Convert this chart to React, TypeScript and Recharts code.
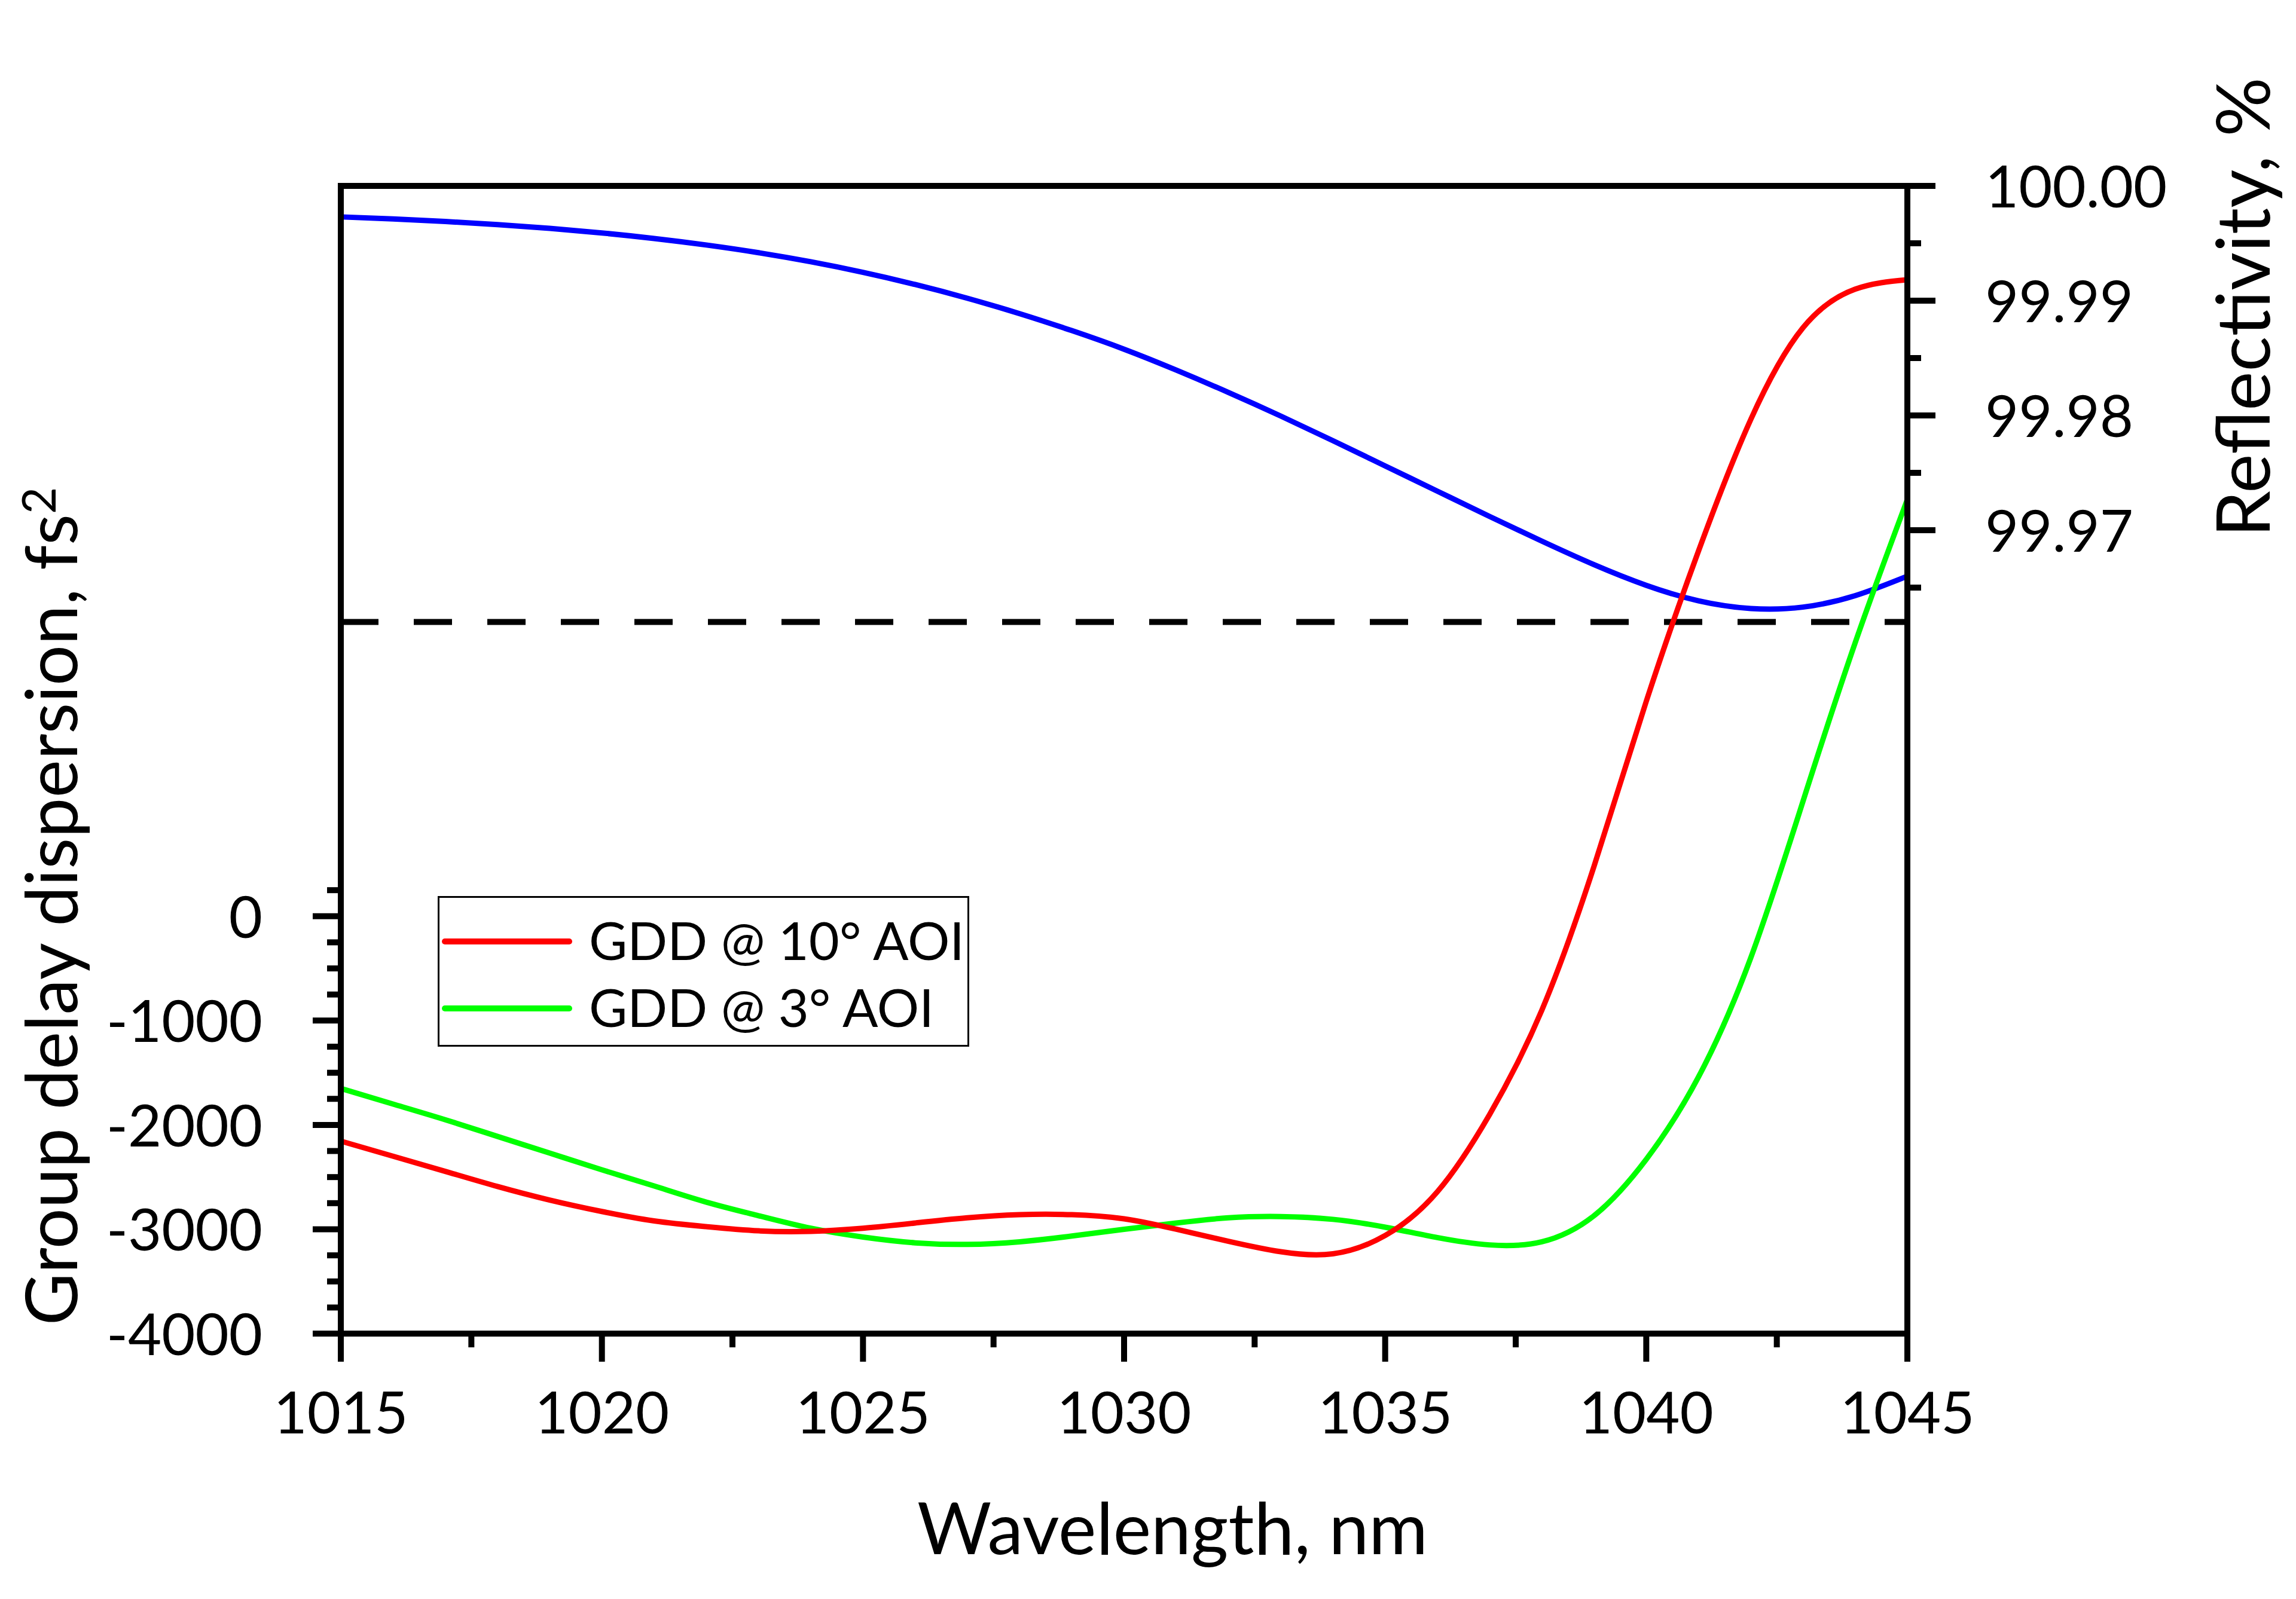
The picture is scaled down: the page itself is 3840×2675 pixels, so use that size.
import React from "react";
import { ComposedChart, Line, XAxis, YAxis, ReferenceLine, Legend } from "recharts";

// Wavelength grid, nm
const WAVELENGTH = [
  1015, 1016, 1017, 1018, 1019, 1020, 1021, 1022, 1023, 1024, 1025,
  1026, 1027, 1028, 1029, 1030, 1031, 1032, 1033, 1034, 1035,
  1036, 1037, 1038, 1039, 1040, 1041, 1042, 1043, 1044, 1045,
];

// GDD, fs^2 (left axis)
const GDD_10_AOI = [
  -2155, -2300, -2445, -2590, -2720, -2830, -2920, -2975, -3015, -3020, -2990,
  -2940, -2890, -2860, -2860, -2900, -3000, -3115, -3215, -3235, -3060,
  -2640, -1900, -900, 480, 2060, 3500, 4760, 5640, 6010, 6100,
];
const GDD_3_AOI = [
  -1650, -1800, -1950, -2110, -2270, -2430, -2585, -2740, -2870, -2990, -3075,
  -3130, -3145, -3120, -3065, -3000, -2940, -2890, -2878, -2905, -2980,
  -3080, -3150, -3120, -2870, -2330, -1540, -400, 1100, 2620, 3995,
];

// Reflectivity, % (right axis)
const REFLECTIVITY = [
  99.9973, 99.99712, 99.9969, 99.99663, 99.9963, 99.9959, 99.99542, 99.99485, 99.99418, 99.99339, 99.99247,
  99.99141, 99.99021, 99.98887, 99.98739, 99.98577, 99.98395, 99.982, 99.97995, 99.9778, 99.9756,
  99.9734, 99.9712, 99.96905, 99.967, 99.9652, 99.96385, 99.96318, 99.9633, 99.9643, 99.966,
];
const R_THRESHOLD = 99.962;

const X_TICKS = [1015, 1017.5, 1020, 1022.5, 1025, 1027.5, 1030, 1032.5, 1035, 1037.5, 1040, 1042.5, 1045];
const X_MAJOR = [1015, 1020, 1025, 1030, 1035, 1040, 1045];
const GDD_TICKS = [
  -4000, -3750, -3500, -3250, -3000, -2750, -2500, -2250, -2000,
  -1750, -1500, -1250, -1000, -750, -500, -250, 0, 250,
];
const GDD_MAJOR = [-4000, -3000, -2000, -1000, 0];
const R_TICKS = [99.965, 99.97, 99.975, 99.98, 99.985, 99.99, 99.995, 100];
const R_MAJOR = [99.97, 99.98, 99.99, 100];

const FONT = "Lato, 'Noto Sans', sans-serif";
const TICK_FONT = 97;
const TITLE_FONT = 120;

const rows = WAVELENGTH.map((wl, i) => ({
  wl,
  gdd10: GDD_10_AOI[i],
  gdd3: GDD_3_AOI[i],
  refl: REFLECTIVITY[i],
}));

function XTick({ x, y, payload }: any) {
  const major = X_MAJOR.includes(payload.value);
  return (
    <g>
      <line x1={x} y1={y} x2={x} y2={y + (major ? 47 : 23)} stroke="#000" strokeWidth={10} />
      {major && (
        <text x={x} y={y + 167} textAnchor="middle" fontSize={TICK_FONT} fontFamily={FONT} fill="#000">
          {payload.value}
        </text>
      )}
    </g>
  );
}

function LeftTick({ x, y, payload }: any) {
  const major = GDD_MAJOR.includes(payload.value);
  return (
    <g>
      <line x1={x} y1={y} x2={x - (major ? 47 : 23)} y2={y} stroke="#000" strokeWidth={10} />
      {major && (
        <text x={x - 131} y={y + 36} textAnchor="end" fontSize={TICK_FONT} fontFamily={FONT} fill="#000">
          {payload.value}
        </text>
      )}
    </g>
  );
}

function RightTick({ x, y, payload }: any) {
  const major = R_MAJOR.includes(payload.value);
  return (
    <g>
      <line x1={x} y1={y} x2={x + (major ? 47 : 23)} y2={y} stroke="#000" strokeWidth={10} />
      {major && (
        <text x={x + 130} y={y + 36} textAnchor="start" fontSize={TICK_FONT} fontFamily={FONT} fill="#000">
          {payload.value.toFixed(2)}
        </text>
      )}
    </g>
  );
}

function XTitle({ viewBox }: any) {
  const cx = viewBox.x + viewBox.width / 2 + 81;
  return (
    <text x={cx} y={viewBox.y + 369} textAnchor="middle" fontSize={TITLE_FONT} fontFamily={FONT} fill="#000">
      Wavelength, nm
    </text>
  );
}

function LeftTitle({ viewBox }: any) {
  const x = viewBox.x - 41;
  const y = viewBox.y + viewBox.height / 2 + 245;
  return (
    <text
      x={x}
      y={y}
      transform={`rotate(-90, ${x}, ${y})`}
      textAnchor="middle"
      fontSize={TITLE_FONT}
      fontFamily={FONT}
      fill="#000"
    >
      Group delay dispersion, fs
      <tspan fontSize={78} dy={-36}>2</tspan>
    </text>
  );
}

function RightTitle({ viewBox }: any) {
  const x = viewBox.x + 606;
  const y = viewBox.y + 203;
  return (
    <text
      x={x}
      y={y}
      transform={`rotate(-90, ${x}, ${y})`}
      textAnchor="middle"
      fontSize={124}
      fontFamily={FONT}
      fill="#000"
    >
      Reflectivity, %
    </text>
  );
}

const LEGEND_ITEMS = [
  { label: "GDD @ 10° AOI", color: "#ff0000" },
  { label: "GDD @ 3° AOI", color: "#00ff00" },
];

function LegendBox() {
  return (
    <svg width={889} height={252} style={{ display: "block", background: "#fff" }}>
      <rect x={1.5} y={1.5} width={886} height={249} fill="#fff" stroke="#000" strokeWidth={3} />
      {LEGEND_ITEMS.map((item, i) => {
        const cy = 76 + i * 112;
        return (
          <g key={item.label}>
            <line x1={12} y1={cy} x2={220} y2={cy} stroke={item.color} strokeWidth={10} strokeLinecap="round" />
            <text x={253} y={cy + 31} fontSize={88} fontFamily={FONT} fill="#000">
              {item.label}
            </text>
          </g>
        );
      })}
    </svg>
  );
}

export default function App() {
  return (
    <div style={{ position: "absolute", left: 0, top: 0, background: "#fff" }}>
      <ComposedChart
        width={3840}
        height={2675}
        data={rows}
        margin={{ top: 311, right: 250, bottom: 144, left: 170 }}
      >
        <XAxis
          dataKey="wl"
          type="number"
          domain={[1015, 1045]}
          ticks={X_TICKS}
          interval={0}
          height={300}
          tickSize={0}
          tickMargin={0}
          tickLine={false}
          tick={<XTick />}
          axisLine={{ stroke: "#000", strokeWidth: 10, strokeLinecap: "square" }}
          label={XTitle}
        />
        <YAxis
          yAxisId="left"
          type="number"
          domain={[-4000, 7000]}
          allowDataOverflow
          ticks={GDD_TICKS}
          interval={0}
          width={400}
          tickSize={0}
          tickMargin={0}
          tickLine={false}
          tick={<LeftTick />}
          axisLine={{ stroke: "#000", strokeWidth: 10, strokeLinecap: "square" }}
          label={LeftTitle}
        />
        <YAxis
          yAxisId="right"
          orientation="right"
          type="number"
          domain={[99.9, 100]}
          allowDataOverflow
          ticks={R_TICKS}
          interval={0}
          width={400}
          tickSize={0}
          tickMargin={0}
          tickLine={false}
          tick={<RightTick />}
          axisLine={{ stroke: "#000", strokeWidth: 10, strokeLinecap: "square" }}
          label={RightTitle}
        />

        {/* top frame */}
        <ReferenceLine yAxisId="left" y={7000} stroke="#000" strokeWidth={10} strokeLinecap="square" ifOverflow="visible" />

        {/* reflectivity spec level */}
        <ReferenceLine
          yAxisId="right"
          y={R_THRESHOLD}
          stroke="#000"
          strokeWidth={10}
          strokeDasharray="64 59"
          strokeDashoffset={26}
        />

        <Line
          yAxisId="right"
          dataKey="refl"
          type="natural"
          stroke="#0000ff"
          strokeWidth={9}
          dot={false}
          activeDot={false}
          isAnimationActive={false}
        />
        <Line
          yAxisId="left"
          dataKey="gdd3"
          type="natural"
          stroke="#00ff00"
          strokeWidth={9}
          dot={false}
          activeDot={false}
          isAnimationActive={false}
        />
        <Line
          yAxisId="left"
          dataKey="gdd10"
          type="natural"
          stroke="#ff0000"
          strokeWidth={9}
          dot={false}
          activeDot={false}
          isAnimationActive={false}
        />

        <Legend
          layout="vertical"
          align="center"
          verticalAlign="middle"
          wrapperStyle={{ left: 732, top: 1499, width: 889, height: 252 }}
          content={() => <LegendBox />}
        />
      </ComposedChart>
    </div>
  );
}
